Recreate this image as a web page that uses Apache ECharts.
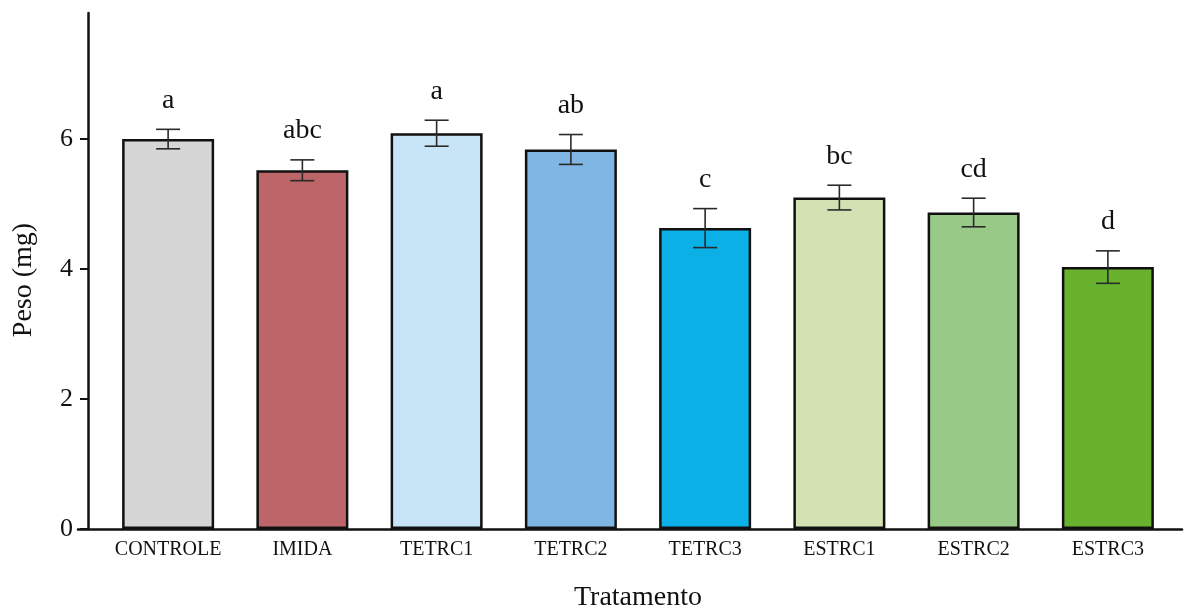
<!DOCTYPE html>
<html>
<head>
<meta charset="utf-8">
<script src="https://cdn.jsdelivr.net/npm/echarts@6/dist/echarts.min.js"></script>
<style>html,body{margin:0;padding:0;background:#fff}#c{width:1190px;height:611px}</style>
</head>
<body>
<div id="c"></div>
<script>
const categories = ['CONTROLE','IMIDA','TETRC1','TETRC2','TETRC3','ESTRC1','ESTRC2','ESTRC3'];
const means = [6.00, 5.52, 6.09, 5.84, 4.63, 5.10, 4.87, 4.03];
const errors = [0.15, 0.16, 0.20, 0.23, 0.30, 0.19, 0.22, 0.25];
const letters = ['a','abc','a','ab','c','bc','cd','d'];
const colors = ['#d6d6d6','#bd6669','#c8e4f7','#80b6e4','#0bb0e6','#d3e1b3','#98c987','#68b22e'];
const yTicks = [0, 2, 4, 6];

const FONT = '"Liberation Serif", "DejaVu Serif", serif';
const chart = echarts.init(document.getElementById('c'));

chart.setOption({
  backgroundColor: '#fff',
  animation: false,
  grid: [
    {left: 101, right: 15, top: 13, bottom: 82, containLabel: false, outerBoundsMode: 'none'},
    {left: 78, right: 8, top: 13, bottom: 82, containLabel: false, outerBoundsMode: 'none'}
  ],
  graphic: [{
    type: 'text', x: 24, y: 280, rotation: Math.PI / 2,
    style: {text: 'Peso (mg)', font: '28px ' + FONT, fill: '#111', align: 'center', verticalAlign: 'middle'}
  }],
  xAxis: [{
    type: 'category', gridIndex: 0, data: categories,
    axisLine: {show: false}, axisTick: {show: false},
    axisLabel: {interval: 0, fontFamily: FONT, fontSize: 20, color: '#111', margin: 11},
    name: 'Tratamento', nameLocation: 'middle', nameGap: 55,
    nameTextStyle: {fontFamily: FONT, fontSize: 28, color: '#111'}
  }, {
    type: 'value', gridIndex: 1, min: 0, max: 1,
    axisLine: {show: true, lineStyle: {color: '#111', width: 2.5}},
    axisTick: {show: false}, axisLabel: {show: false}, splitLine: {show: false}
  }],
  yAxis: [{
    type: 'value', gridIndex: 0, min: 0, max: 7.94, interval: 2, offset: 13,
    axisLine: {show: true, onZero: false, lineStyle: {color: '#111', width: 2.5}},
    axisTick: {show: true, length: 8, customValues: yTicks, lineStyle: {color: '#111', width: 2}},
    axisLabel: {customValues: yTicks, fontFamily: FONT, fontSize: 26, color: '#111', margin: 15,
      formatter: v => (yTicks.indexOf(v) >= 0 ? String(v) : '')},
    splitLine: {show: false}
  }, {
    type: 'value', gridIndex: 1, show: false, min: 0, max: 1
  }],
  series: [{
    type: 'bar', xAxisIndex: 0, yAxisIndex: 0, barWidth: 92,
    data: means.map((v, i) => ({value: v, itemStyle: {color: colors[i]}})),
    itemStyle: {borderColor: '#111', borderWidth: 2.5},
    z: 2
  }, {
    type: 'custom', xAxisIndex: 0, yAxisIndex: 0, z: 5,
    data: means.map((v, i) => [i, v, errors[i]]),
    renderItem: function (params, api) {
      const i = api.value(0), m = api.value(1), s = api.value(2);
      const top = api.coord([i, m + s]);
      const bot = api.coord([i, m - s]);
      const hw = 12;
      const st = {stroke: '#2a2a2a', lineWidth: 1.6};
      return {type: 'group', children: [
        {type: 'line', shape: {x1: top[0], y1: top[1], x2: bot[0], y2: bot[1]}, style: st},
        {type: 'line', shape: {x1: top[0] - hw, y1: top[1], x2: top[0] + hw, y2: top[1]}, style: st},
        {type: 'line', shape: {x1: bot[0] - hw, y1: bot[1], x2: bot[0] + hw, y2: bot[1]}, style: st},
        {type: 'text', x: top[0], y: top[1] - 29,
          style: {text: letters[params.dataIndex], font: '28px ' + FONT, fill: '#111', align: 'center', verticalAlign: 'middle'}}
      ]};
    }
  }]
});
</script>
</body>
</html>
